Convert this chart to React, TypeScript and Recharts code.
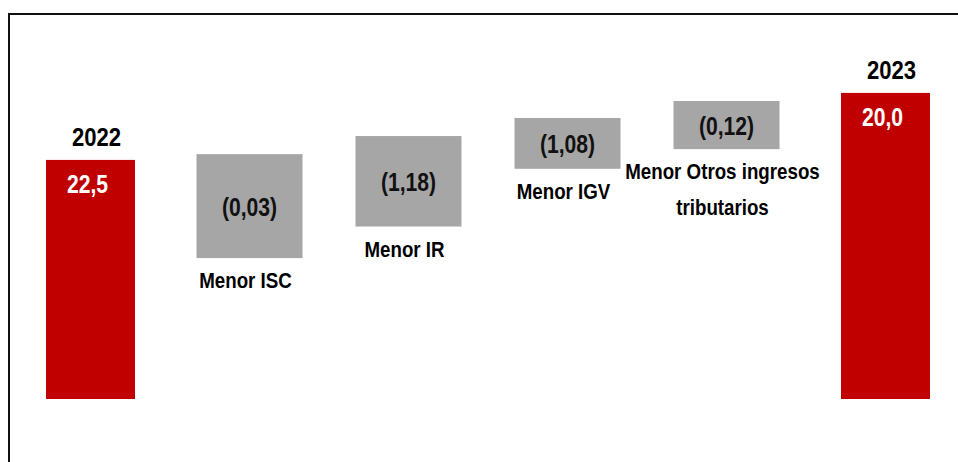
import React from 'react';
import { BarChart, Bar, XAxis, YAxis } from 'recharts';

// bar extents (chart units, 0 = baseline)
const categories = ['2022', 'Menor ISC', 'Menor IR', 'Menor IGV', 'Menor Otros ingresos tributarios', '2023'];
const barBottom = [0, 36.6, 44.8, 59.8, 64.9, 0];
const barTop = [62.1, 63.6, 68.3, 73.0, 77.4, 79.5];
const valueLabels = ['22,5', '(0,03)', '(1,18)', '(1,08)', '(0,12)', '20,0'];
const isTotal = [true, false, false, false, false, true];
const categoryLines = [[], ['Menor ISC'], ['Menor IR'], ['Menor IGV'], ['Menor Otros ingresos', 'tributarios'], []];

const RED = '#C00000';
const GREY = '#A6A6A6';
const FONT = '"Liberation Sans", Arial, sans-serif';

const data = categories.map((name, i) => ({
  name,
  idx: i,
  base: barBottom[i],
  size: barTop[i] - barBottom[i],
}));

// the original labels look slightly condensed / taller than plain Arial bold
const Txt = ({ x, y, size, fill, children }: any) => (
  <text
    transform={`translate(${x},${y}) scale(0.96,1.14)`}
    textAnchor="middle"
    fontFamily={FONT}
    fontWeight="bold"
    fontSize={size}
    fill={fill}
  >
    {children}
  </text>
);

const WaterfallShape = (props: any) => {
  const { x, y, width, height, payload } = props;
  const i = payload.idx;
  const total = isTotal[i];
  const w = total ? 89 : 106;
  const cx = x + width / 2;

  return (
    <g>
      <rect x={cx - w / 2} y={y} width={w} height={height} fill={total ? RED : GREY} />
      {total ? (
        <>
          <Txt x={cx + 6} y={y - 14} size={23} fill="#000">{categories[i]}</Txt>
          <Txt x={cx - 3} y={y + 33} size={22} fill="#fff">{valueLabels[i]}</Txt>
        </>
      ) : (
        <>
          <Txt x={cx} y={y + height / 2 + 10} size={22} fill="#111">{valueLabels[i]}</Txt>
          {categoryLines[i].map((line, k) => (
            <Txt key={k} x={cx - 4} y={y + height + 30 + k * 36} size={19.5} fill="#000">
              {line}
            </Txt>
          ))}
        </>
      )}
    </g>
  );
};

export default function App() {
  return (
    <div style={{ position: 'relative', width: 958, height: 462, overflow: 'hidden', background: '#fff' }}>
      <style>{`body{margin:0}`}</style>
      <div
        style={{
          position: 'absolute',
          left: 8,
          top: 13,
          right: -10,
          bottom: -10,
          borderTop: '2px solid #111',
          borderLeft: '2px solid #111',
        }}
      />
      <BarChart
        width={966}
        height={462}
        data={data}
        margin={{ top: 14, right: 1.5, left: 10.5, bottom: 63 }}
        barSize={106}
        style={{ position: 'absolute', left: 0, top: 0 }}
      >
        <XAxis dataKey="name" hide />
        <YAxis type="number" domain={[0, 100]} hide />
        <Bar dataKey="base" stackId="w" fill="transparent" isAnimationActive={false} />
        <Bar dataKey="size" stackId="w" shape={WaterfallShape} isAnimationActive={false} />
      </BarChart>
    </div>
  );
}
